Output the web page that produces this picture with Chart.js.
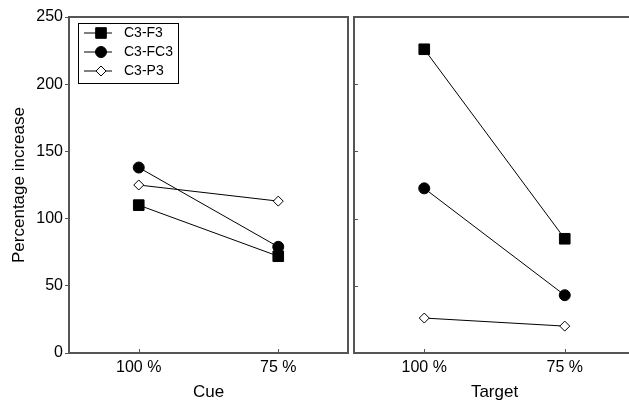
<!DOCTYPE html>
<html>
<head>
<meta charset="utf-8">
<script src="https://cdn.jsdelivr.net/npm/chart.js@4"></script>
<style>
  html, body { margin: 0; padding: 0; background: #fff; overflow: hidden; width: 629px; height: 405px; }
  canvas { position: absolute; top: 0; }
  #cueChart { left: 0; }
  #targetChart { left: 351px; }
</style>
</head>
<body>
<canvas id="cueChart" width="351" height="405"></canvas>
<canvas id="targetChart" width="289" height="405"></canvas>
<script>
// ---- Data ----
const conditions = ['100 %', '75 %'];
const yTicks = [0, 50, 100, 150, 200, 250];
const seriesNames = ['C3-F3', 'C3-FC3', 'C3-P3'];

const cueF3 = [110, 72];
const cueFC3 = [138, 79];
const cueP3 = [125, 113];

const targetF3 = [226, 85];
const targetFC3 = [122.5, 43];
const targetP3 = [26, 20];

Chart.defaults.font.family = "'Liberation Sans', Arial, sans-serif";
Chart.defaults.font.size = 16;
Chart.defaults.color = '#000';

const frameColor = '#555';
const titleFont = { size: 17 };

// marker style per series
const markers = [
  { pointStyle: 'rect', pointRadius: 7.5, pointBackgroundColor: '#000', pointBorderColor: '#000' },
  { pointStyle: 'circle', pointRadius: 5.5, pointBackgroundColor: '#000', pointBorderColor: '#000' },
  { pointStyle: 'rectRot', pointRadius: 5, pointBackgroundColor: '#fff', pointBorderColor: '#000' }
];

function makeDatasets(values) {
  return values.map((v, i) => ({
    label: seriesNames[i],
    data: v,
    borderColor: '#000',
    borderWidth: 1,
    pointBorderWidth: 1,
    pointHoverRadius: markers[i].pointRadius,
    ...markers[i]
  }));
}

// box around the plot area
const frame = {
  id: 'frame',
  afterDraw(chart) {
    const { ctx, chartArea: a } = chart;
    ctx.save();
    ctx.strokeStyle = frameColor;
    ctx.lineWidth = 2;
    ctx.strokeRect(a.left, a.top, a.right - a.left, a.bottom - a.top);
    ctx.restore();
  }
};

// short tick marks pointing into the plot
const innerTicks = {
  id: 'innerTicks',
  afterDraw(chart, args, opts) {
    const { ctx, chartArea: a } = chart;
    ctx.save();
    ctx.strokeStyle = frameColor;
    ctx.lineWidth = 1;
    (opts.axes || []).forEach(id => {
      const s = chart.scales[id];
      s.ticks.forEach((t, i) => {
        const p = Math.round(s.getPixelForTick(i)) + 0.5;
        ctx.beginPath();
        if (s.isHorizontal()) { ctx.moveTo(p, a.bottom); ctx.lineTo(p, a.bottom - 4); }
        else { ctx.moveTo(a.left, p); ctx.lineTo(a.left + 4, p); }
        ctx.stroke();
      });
    });
    ctx.restore();
  }
};

// legend in a box with line through the marker
const boxLegend = {
  id: 'boxLegend',
  afterDraw(chart) {
    const { ctx, chartArea: a } = chart;
    const x0 = a.left + 9, y0 = a.top + 6;
    ctx.save();
    ctx.strokeStyle = '#000';
    ctx.lineWidth = 1;
    ctx.strokeRect(x0 + 0.5, y0 + 0.5, 100, 60);
    chart.data.datasets.forEach((ds, i) => {
      const y = y0 + 10 + i * 19;
      ctx.strokeStyle = '#000';
      ctx.lineWidth = 1;
      ctx.beginPath();
      ctx.moveTo(x0 + 6, y);
      ctx.lineTo(x0 + 34, y);
      ctx.stroke();
      ctx.fillStyle = ds.pointBackgroundColor;
      ctx.strokeStyle = ds.pointBorderColor;
      Chart.helpers.drawPoint(ctx, { pointStyle: ds.pointStyle, radius: ds.pointRadius, borderWidth: 1, rotation: 0 }, x0 + 23, y);
      ctx.fillStyle = '#000';
      ctx.font = "14px 'Liberation Sans', Arial, sans-serif";
      ctx.textBaseline = 'middle';
      ctx.fillText(ds.label, x0 + 46, y);
    });
    ctx.restore();
  }
};

function xAxis(title) {
  return {
    type: 'category',
    labels: conditions,
    offset: true,
    grid: { display: false, drawTicks: false },
    border: { display: false },
    ticks: { padding: 5, maxRotation: 0 },
    title: { display: true, text: title, font: titleFont, padding: { top: 0, bottom: 2 } },
    afterFit: s => { s.height = 52; }
  };
}

function yRange(s) {
  s.ticks = yTicks.map(v => ({ value: v }));
}

// ---- Left panel: Cue ----
new Chart(document.getElementById('cueChart'), {
  type: 'line',
  data: { datasets: makeDatasets([cueF3, cueFC3, cueP3]) },
  plugins: [frame, innerTicks, boxLegend],
  options: {
    responsive: false,
    animation: false,
    events: [],
    layout: { autoPadding: false, padding: { top: 17, right: 3, left: 0, bottom: 0 } },
    plugins: { legend: { display: false }, tooltip: { enabled: false }, innerTicks: { axes: ['x'] } },
    scales: {
      x: xAxis('Cue'),
      y: {
        min: 0, max: 250,
        afterBuildTicks: yRange,
        grid: { drawOnChartArea: false, drawTicks: true, tickLength: 4, color: frameColor },
        border: { display: false },
        ticks: { padding: 2 },
        title: { display: true, text: 'Percentage increase', font: titleFont, padding: { top: 9, bottom: 0 } },
        afterFit: s => { s.width = 69; }
      }
    }
  }
});

// ---- Right panel: Target ----
new Chart(document.getElementById('targetChart'), {
  type: 'line',
  data: { datasets: makeDatasets([targetF3, targetFC3, targetP3]) },
  plugins: [frame, innerTicks],
  options: {
    responsive: false,
    animation: false,
    events: [],
    layout: { autoPadding: false, padding: { top: 17, right: 5, left: 3, bottom: 0 } },
    plugins: { legend: { display: false }, tooltip: { enabled: false }, innerTicks: { axes: ['x', 'y'] } },
    scales: {
      x: xAxis('Target'),
      y: {
        min: 0, max: 250,
        afterBuildTicks: yRange,
        grid: { display: false, drawTicks: false },
        border: { display: false },
        ticks: { display: false },
        afterFit: s => { s.width = 0; }
      }
    }
  }
});
</script>
</body>
</html>
